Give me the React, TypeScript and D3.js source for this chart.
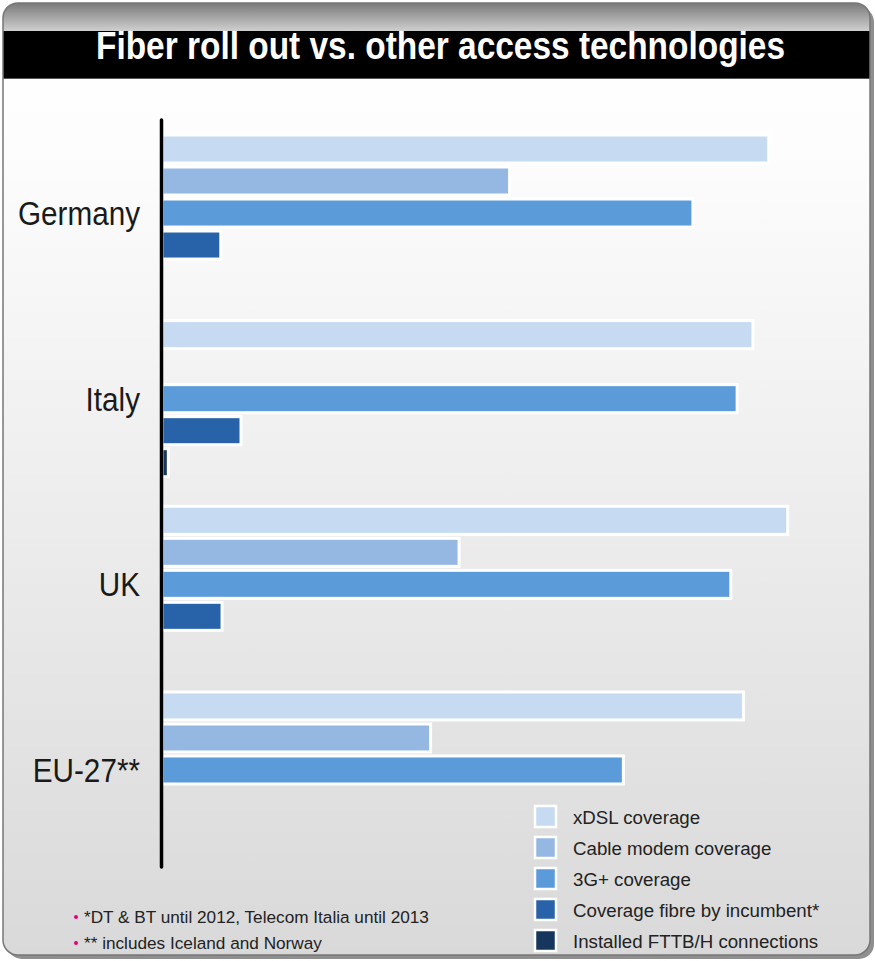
import React from 'react';
import * as d3 from 'd3';

const countries = ['Germany', 'Italy', 'UK', 'EU-27**'];
const series = [
  'xDSL coverage',
  'Cable modem coverage',
  '3G+ coverage',
  'Coverage fibre by incumbent*',
  'Installed FTTB/H connections',
];
const colors = ['#c6daf1', '#95b8e3', '#5b9bd9', '#2862a8', '#17365d'];

// coverage in % per country, one array per series (null = no bar)
const xdsl = [96, 93.5, 99, 92];
const cable = [55, null, 47, 42.5];
const g3 = [84, 91, 90, 73];
const fibre = [9.3, 12.5, 9.5, null];
const fttb = [null, 1, null, null];
const values = [xdsl, cable, g3, fibre, fttb];

const footnotes = ['*DT & BT until 2012, Telecom Italia until 2013', '** includes Iceland and Norway'];

const W = 875;
const H = 961;

export default function App() {
  const x = d3.scaleLinear().domain([0, 100]).range([162, 794]);
  const yGroup = d3.scaleBand<string>().domain(countries).range([133, 850]).paddingInner(0.138).paddingOuter(0);
  const ySub = d3
    .scaleBand<number>()
    .domain(d3.range(series.length))
    .range([0, yGroup.bandwidth()])
    .paddingInner(0.125)
    .paddingOuter(0.0625);

  const font = '"Liberation Sans", Arial, sans-serif';

  return (
    <svg width={W} height={H} style={{ position: 'absolute', left: 0, top: 0 }} fontFamily={font}>
      <defs>
        <linearGradient id="body" x1="0" y1="0" x2="0" y2="1">
          <stop offset="0" stopColor="#ffffff" />
          <stop offset="0.15" stopColor="#fdfdfd" />
          <stop offset="1" stopColor="#d9d9d9" />
        </linearGradient>
        <linearGradient id="head" x1="0" y1="0" x2="0" y2="1">
          <stop offset="0" stopColor="#7a7a7a" />
          <stop offset="1" stopColor="#cfcfcf" />
        </linearGradient>
        <clipPath id="panel">
          <rect x={3} y={3} width={867} height={952} rx={15} />
        </clipPath>
      </defs>
      <rect width={W} height={H} fill="#ffffff" />
      {/* shadow */}
      <rect x={7} y={7} width={867} height={952} rx={15} fill="#8f8f8f" />
      <g clipPath="url(#panel)">
        <rect x={3} y={3} width={867} height={952} fill="url(#body)" />
        <rect x={3} y={3} width={867} height={28} fill="url(#head)" />
        <rect x={3} y={31} width={867} height={47} fill="#000" />
        <line x1={3} x2={870} y1={78.5} y2={78.5} stroke="#555" strokeWidth={1} />
      </g>
      <rect x={3} y={3} width={867} height={952} rx={15} fill="none" stroke="#777" strokeWidth={1.5} />

      <text
        x={96}
        y={59}
        fill="#fff"
        fontWeight="bold"
        fontSize={38}
        textLength={689}
        lengthAdjust="spacingAndGlyphs"
      >
        Fiber roll out vs. other access technologies
      </text>

      {/* bars */}
      {countries.map((c, ci) => (
        <g key={c} transform={`translate(0,${yGroup(c)})`}>
          {values.map((vals, si) => {
            const v = vals[ci];
            if (v == null) return null;
            return (
              <rect
                key={si}
                x={x(0)}
                y={ySub(si)}
                width={x(v) - x(0)}
                height={ySub.bandwidth()}
                fill={colors[si]}
                stroke="#fff"
                strokeWidth={3}
              />
            );
          })}
          <text
            transform={`translate(140,${yGroup.bandwidth() / 2 + 1}) scale(0.9,1)`}
            textAnchor="end"
            dominantBaseline="central"
            fontSize={33}
            fill="#1a1a1a"
          >
            {c}
          </text>
        </g>
      ))}

      {/* axis */}
      <line x1={x(0) - 0.5} x2={x(0) - 0.5} y1={120} y2={867} stroke="#000" strokeWidth={3.5} strokeLinecap="round" />

      {/* legend */}
      {series.map((s, i) => (
        <g key={s} transform={`translate(535,${806 + i * 31})`}>
          <rect width={21} height={21} fill={colors[i]} stroke="#fff" strokeWidth={2.5} />
          <text x={38} y={11} dominantBaseline="central" fontSize={18.7} fill="#222">
            {s}
          </text>
        </g>
      ))}

      {/* footnotes */}
      {footnotes.map((f, i) => (
        <g key={f} transform={`translate(76,${917 + i * 26})`}>
          <circle cx={0} cy={0} r={2} fill="#e2007a" />
          <text x={8} y={0} dominantBaseline="central" fontSize={17.2} fill="#222">
            {f}
          </text>
        </g>
      ))}
    </svg>
  );
}
